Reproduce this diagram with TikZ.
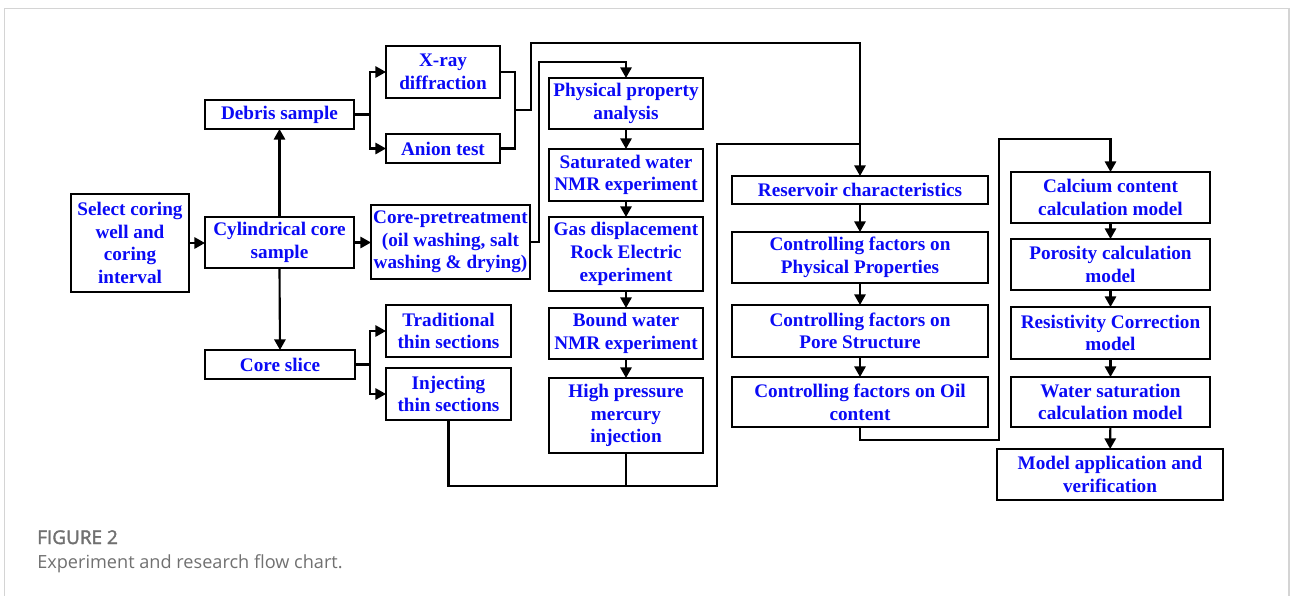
\documentclass[tikz,border=0pt]{standalone}
\usepackage{fontspec}
\setmainfont{Liberation Serif}
\newfontfamily\capfont{Open Sans}
\usetikzlibrary{arrows.meta}
\definecolor{txtblue}{RGB}{10,10,245}
\definecolor{framegray}{RGB}{212,212,212}
\definecolor{capgray}{RGB}{112,112,112}
\newcommand\bx[6]{\node[box, minimum width={(#4-#2)*0.75pt}, minimum height={(#5-#3)*0.75pt}] (#1) at ({(#2+#4)/2},{(#3+#5)/2}) {#6};}
\begin{document}
\begin{tikzpicture}[x=0.75pt,y=-0.75pt,
  box/.style={draw, line width=1.6pt, inner sep=0pt, outer sep=0pt, align=center,
    font=\fontsize{14.4}{17}\selectfont\bfseries, text=txtblue},
  ln/.style={line width=1.6pt, line join=miter},
  arr/.style={ln, -{Triangle[length=8pt,width=8.5pt]}},
  captxt/.style={anchor=base west, inner sep=0pt, text=capgray}]
\useasboundingbox (0,0) rectangle (1290,596);
\draw[framegray, line width=1.2pt] (4.5,600) -- (4.5,8.5) -- (1289,8.5) -- (1289,600);

\bx{sel}{71}{194}{189}{292}{Select coring\\ well and\\ coring\\ interval}
\bx{cyl}{205}{217}{354}{268}{Cylindrical core\\ sample}
\bx{deb}{205}{100}{354}{129}{Debris sample}
\bx{sli}{205}{350}{355}{379}{Core slice}
\bx{xr}{386}{46}{500}{98}{X-ray\\ diffraction}
\bx{ani}{386}{134}{500}{163}{Anion test}
\bx{pre}{371}{205}{530}{279}{Core-pretreatment\\ (oil washing, salt\\ washing \& drying)}
\bx{tra}{386}{305}{511}{357}{Traditional\\ thin sections}
\bx{inj}{386}{368}{511}{420}{Injecting\\ thin sections}
\bx{phy}{549}{78}{703}{129}{Physical property\\ analysis}
\bx{sat}{549}{149}{703}{201}{Saturated water\\ NMR experiment}
\bx{gas}{549}{217}{703}{291}{Gas displacement\\ Rock Electric\\ experiment}
\bx{bnd}{549}{308}{703}{359}{Bound water\\ NMR experiment}
\bx{hpm}{549}{378}{703}{453}{High pressure\\ mercury\\ injection}
\bx{res}{732}{176}{988}{204}{Reservoir characteristics}
\bx{cpp}{732}{232}{988}{283}{Controlling factors on\\ Physical Properties}
\bx{cps}{732}{305}{988}{357}{Controlling factors on\\ Pore Structure}
\bx{coc}{732}{377}{988}{427}{Controlling factors on Oil\\ content}
\bx{cal}{1011}{172}{1210}{223}{Calcium content\\ calculation model}
\bx{por}{1011}{239}{1210}{290}{Porosity calculation\\ model}
\bx{rsc}{1011}{307}{1210}{359}{Resistivity Correction\\ model}
\bx{wsm}{1011}{377}{1210}{427}{Water saturation\\ calculation model}
\bx{mod}{997}{449}{1223}{500}{Model application and\\ verification}

\coordinate (jd) at (370,114.5);
\coordinate (js) at (370,364.5);
\coordinate (jx) at (515,110);
\coordinate (t1) at (531,43);
\coordinate (p1) at (539,62);
\coordinate (b1) at (717,486);
\coordinate (b2) at (717,144);
\coordinate (r1) at (999,440);
\coordinate (r2) at (999,139);

\draw[arr] (sel.east) -- (sel.east -| cyl.west);
\draw[arr] (cyl.north) -- (deb.south);
\draw[arr] (cyl.south) -- (sli.north);
\draw[arr] (cyl.east) -- (cyl.east -| pre.west);
\draw[ln] (deb.east) -- (jd);
\draw[arr] (jd) |- (xr.west);
\draw[arr] (jd) |- (ani.west);
\draw[ln] (sli.east) -- (js);
\draw[arr] (js) |- (tra.west);
\draw[arr] (js) |- (inj.west);
\draw[ln] (xr.east) -| (jx);
\draw[ln] (ani.east) -| (jx);
\draw[arr] (jx) -| (t1) -- (t1 -| res.north) -- (res.north);
\draw[arr] (pre.east) -| (p1) -- (p1 -| phy.north) -- (phy.north);
\draw[arr] (phy) -- (sat);
\draw[arr] (sat) -- (gas);
\draw[arr] (gas) -- (bnd);
\draw[arr] (bnd) -- (hpm);
\draw[ln] (inj.south) |- (b1) -- (b2) -- (b2 -| res.north);
\draw[ln] (hpm.south) -- (hpm.south |- b1);
\draw[arr] (res) -- (cpp);
\draw[arr] (cpp) -- (cps);
\draw[arr] (cps) -- (coc);
\draw[arr] (coc.south) |- (r1) -- (r2) -- (r2 -| cal.north) -- (cal.north);
\draw[arr] (cal) -- (por);
\draw[arr] (por) -- (rsc);
\draw[arr] (rsc) -- (wsm);
\draw[arr] (wsm) -- (mod);

\node[captxt, font=\capfont\fontsize{14.2}{16}\selectfont\addfontfeature{FakeBold=2}] (fig) at (37,544) {FIGURE 2};
\node[captxt, font=\capfont\fontsize{13.6}{16}\selectfont] (cap) at (37,568) {Experiment and research flow chart.};
\end{tikzpicture}
\end{document}
